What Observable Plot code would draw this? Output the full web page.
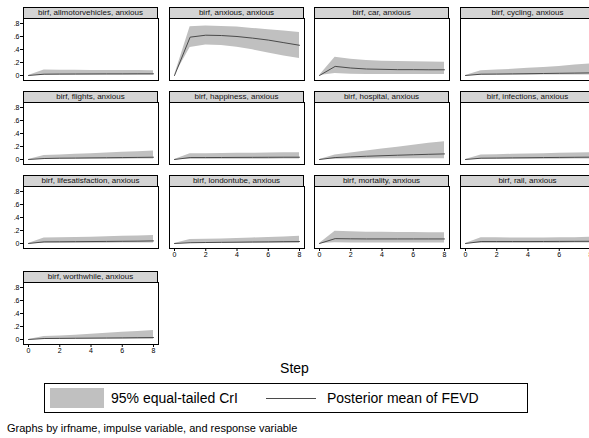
<!DOCTYPE html>
<html>
<head>
<meta charset="utf-8">
<script src="https://cdn.jsdelivr.net/npm/d3@7"></script>
<script src="https://cdn.jsdelivr.net/npm/@observablehq/plot@0.6"></script>
<style>
  body { margin: 0; background: #fff; }
  #chart { position: relative; width: 589px; height: 438px; overflow: hidden; background: #fff; font-family: "Liberation Sans", Arial, sans-serif; }
  .hdr { position: absolute; box-sizing: border-box; border: 1px solid #000; background: #d4d4d4; font-size: 8px; text-align: center; line-height: 9px; white-space: nowrap; overflow: hidden; color: #111; }
  .pl { position: absolute; }
</style>
</head>
<body>
<div id="chart"></div>
<script>
const steps = [0, 1, 2, 3, 4, 5, 6, 7, 8];
const panelNames = ["allmotorvehicles", "anxious", "car", "cycling", "flights", "happiness", "hospital",
  "infections", "lifesatisfaction", "londontube", "mortality", "rail", "worthwhile"];
const yTicks = [0, 0.2, 0.4, 0.6, 0.8];
const xTicks = [0, 2, 4, 6, 8];

const meanAllmotorvehicles = [0, 0.020, 0.022, 0.023, 0.024, 0.025, 0.025, 0.026, 0.026];
const meanAnxious = [0, 0.590, 0.620, 0.615, 0.600, 0.575, 0.545, 0.505, 0.465];
const meanCar = [0, 0.140, 0.115, 0.100, 0.095, 0.090, 0.090, 0.088, 0.088];
const meanCycling = [0, 0.020, 0.022, 0.025, 0.028, 0.031, 0.034, 0.037, 0.040];
const meanFlights = [0, 0.015, 0.020, 0.022, 0.025, 0.027, 0.030, 0.032, 0.035];
const meanHappiness = [0, 0.030, 0.030, 0.031, 0.032, 0.033, 0.034, 0.035, 0.035];
const meanHospital = [0, 0.030, 0.040, 0.050, 0.058, 0.066, 0.073, 0.080, 0.086];
const meanInfections = [0, 0.020, 0.022, 0.025, 0.027, 0.030, 0.032, 0.034, 0.036];
const meanLifesatisfaction = [0, 0.025, 0.026, 0.028, 0.030, 0.032, 0.034, 0.036, 0.040];
const meanLondontube = [0, 0.012, 0.015, 0.018, 0.020, 0.023, 0.025, 0.028, 0.030];
const meanMortality = [0, 0.075, 0.072, 0.070, 0.070, 0.070, 0.070, 0.070, 0.070];
const meanRail = [0, 0.030, 0.030, 0.030, 0.030, 0.031, 0.032, 0.033, 0.034];
const meanWorthwhile = [0, 0.015, 0.017, 0.019, 0.021, 0.023, 0.025, 0.028, 0.030];

const hiAllmotorvehicles = [0, 0.085, 0.082, 0.080, 0.078, 0.077, 0.076, 0.076, 0.075];
const hiAnxious = [0, 0.750, 0.760, 0.755, 0.745, 0.725, 0.705, 0.685, 0.660];
const hiCar = [0, 0.280, 0.250, 0.230, 0.220, 0.215, 0.210, 0.208, 0.205];
const hiCycling = [0, 0.075, 0.085, 0.095, 0.110, 0.125, 0.140, 0.160, 0.180];
const hiFlights = [0, 0.060, 0.070, 0.080, 0.090, 0.100, 0.110, 0.120, 0.130];
const hiHappiness = [0, 0.090, 0.090, 0.092, 0.095, 0.097, 0.100, 0.102, 0.105];
const hiHospital = [0, 0.070, 0.100, 0.130, 0.160, 0.190, 0.220, 0.250, 0.275];
const hiInfections = [0, 0.070, 0.075, 0.080, 0.085, 0.090, 0.095, 0.100, 0.105];
const hiLifesatisfaction = [0, 0.085, 0.088, 0.093, 0.098, 0.104, 0.110, 0.117, 0.125];
const hiLondontube = [0, 0.060, 0.065, 0.070, 0.078, 0.085, 0.093, 0.100, 0.110];
const hiMortality = [0, 0.190, 0.180, 0.175, 0.172, 0.170, 0.168, 0.166, 0.165];
const hiRail = [0, 0.090, 0.088, 0.086, 0.085, 0.085, 0.087, 0.090, 0.095];
const hiWorthwhile = [0, 0.045, 0.055, 0.065, 0.080, 0.095, 0.110, 0.125, 0.140];

const loAllmotorvehicles = [0, 0.003, 0.004, 0.004, 0.005, 0.005, 0.005, 0.005, 0.005];
const loAnxious = [0, 0.430, 0.470, 0.460, 0.435, 0.395, 0.345, 0.300, 0.260];
const loCar = [0, 0.030, 0.020, 0.017, 0.015, 0.015, 0.015, 0.015, 0.015];
const loCycling = [0, 0.003, 0.004, 0.005, 0.005, 0.006, 0.006, 0.007, 0.007];
const loFlights = [0, 0.003, 0.004, 0.004, 0.005, 0.005, 0.005, 0.006, 0.006];
const loHappiness = [0, 0.004, 0.004, 0.005, 0.005, 0.005, 0.005, 0.006, 0.006];
const loHospital = [0, 0.004, 0.006, 0.008, 0.010, 0.010, 0.012, 0.012, 0.013];
const loInfections = [0, 0.003, 0.004, 0.004, 0.005, 0.005, 0.005, 0.006, 0.006];
const loLifesatisfaction = [0, 0.004, 0.004, 0.005, 0.005, 0.005, 0.006, 0.006, 0.006];
const loLondontube = [0, 0.002, 0.003, 0.003, 0.004, 0.004, 0.004, 0.005, 0.005];
const loMortality = [0, 0.010, 0.008, 0.008, 0.008, 0.008, 0.008, 0.008, 0.008];
const loRail = [0, 0.004, 0.004, 0.005, 0.005, 0.005, 0.005, 0.006, 0.006];
const loWorthwhile = [0, 0.002, 0.003, 0.003, 0.004, 0.004, 0.004, 0.005, 0.005];

const means = [meanAllmotorvehicles, meanAnxious, meanCar, meanCycling, meanFlights, meanHappiness, meanHospital,
  meanInfections, meanLifesatisfaction, meanLondontube, meanMortality, meanRail, meanWorthwhile];
const his = [hiAllmotorvehicles, hiAnxious, hiCar, hiCycling, hiFlights, hiHappiness, hiHospital,
  hiInfections, hiLifesatisfaction, hiLondontube, hiMortality, hiRail, hiWorthwhile];
const los = [loAllmotorvehicles, loAnxious, loCar, loCycling, loFlights, loHappiness, loHospital,
  loInfections, loLifesatisfaction, loLondontube, loMortality, loRail, loWorthwhile];

// layout
const colLeft = [23, 169, 314, 460];
const rowTop = [7, 91, 175, 271];
const boxW = 135, hdrH = 11, boxH = 62;

const chart = document.getElementById("chart");
const fmtY = d => d === 0 ? "0" : d.toFixed(1).replace(/^0/, "");

panelNames.forEach((name, i) => {
  const r = Math.floor(i / 4), c = i % 4;
  const showY = c === 0;
  const showX = (i + 4) >= panelNames.length;
  const left = colLeft[c], top = rowTop[r];

  const hdr = document.createElement("div");
  hdr.className = "hdr";
  hdr.style.left = left + "px";
  hdr.style.top = top + "px";
  hdr.style.width = boxW + "px";
  hdr.style.height = (hdrH + 1) + "px";
  hdr.textContent = `birf, ${name}, anxious`;
  chart.appendChild(hdr);

  const data = steps.map((s, k) => ({step: s, mean: means[i][k], lo: los[i][k], hi: his[i][k]}));
  const mL = showY ? 23 : 1, mB = showX ? 16 : 1;
  const marks = [
    Plot.areaY(data, {x: "step", y1: "lo", y2: "hi", fill: "#c0c0c0"}),
    Plot.line(data, {x: "step", y: "mean", stroke: "#4a4a4a", strokeWidth: 1}),
    Plot.frame({stroke: "#000", strokeWidth: 1})
  ];
  if (showY) marks.push(Plot.axisY({ticks: yTicks, tickFormat: fmtY, tickSize: 3, tickPadding: 1, fontSize: 7, label: null}));
  if (showX) marks.push(Plot.axisX({ticks: xTicks, tickSize: 3, tickPadding: 1, fontSize: 7, label: null}));

  const p = Plot.plot({
    width: boxW + mL + 1,
    height: boxH + mB + 0,
    marginLeft: mL, marginRight: 1, marginTop: 0, marginBottom: mB,
    x: {domain: [0, 8], insetLeft: 5, insetRight: 5, axis: null},
    y: {domain: [0, 0.8], insetTop: 5, insetBottom: 5, axis: null},
    style: {background: "transparent", fontFamily: "Liberation Sans, Arial, sans-serif", color: "#000"},
    marks
  });
  p.classList.add("pl");
  p.style.left = (left - mL) + "px";
  p.style.top = (top + hdrH) + "px";
  chart.appendChild(p);
});

// x title
const xt = document.createElement("div");
xt.textContent = "Step";
Object.assign(xt.style, {position: "absolute", left: "0px", width: "589px", top: "360px", textAlign: "center", fontSize: "14px"});
chart.appendChild(xt);

// legend
const leg = document.createElement("div");
Object.assign(leg.style, {position: "absolute", left: "44px", top: "383px", width: "484px", height: "30px", border: "1px solid #000", boxSizing: "border-box"});
leg.innerHTML = `
  <div style="position:absolute;left:5px;top:4px;width:54px;height:20px;background:#c0c0c0"></div>
  <div style="position:absolute;left:66px;top:5px;font-size:14px;line-height:18px">95% equal-tailed CrI</div>
  <div style="position:absolute;left:221px;top:14px;width:50px;border-top:1px solid #4a4a4a"></div>
  <div style="position:absolute;left:282px;top:5px;font-size:14px;line-height:18px">Posterior mean of FEVD</div>`;
chart.appendChild(leg);

// caption
const cap = document.createElement("div");
cap.textContent = "Graphs by irfname, impulse variable, and response variable";
Object.assign(cap.style, {position: "absolute", left: "7px", top: "422px", fontSize: "11px"});
chart.appendChild(cap);
</script>
</body>
</html>
